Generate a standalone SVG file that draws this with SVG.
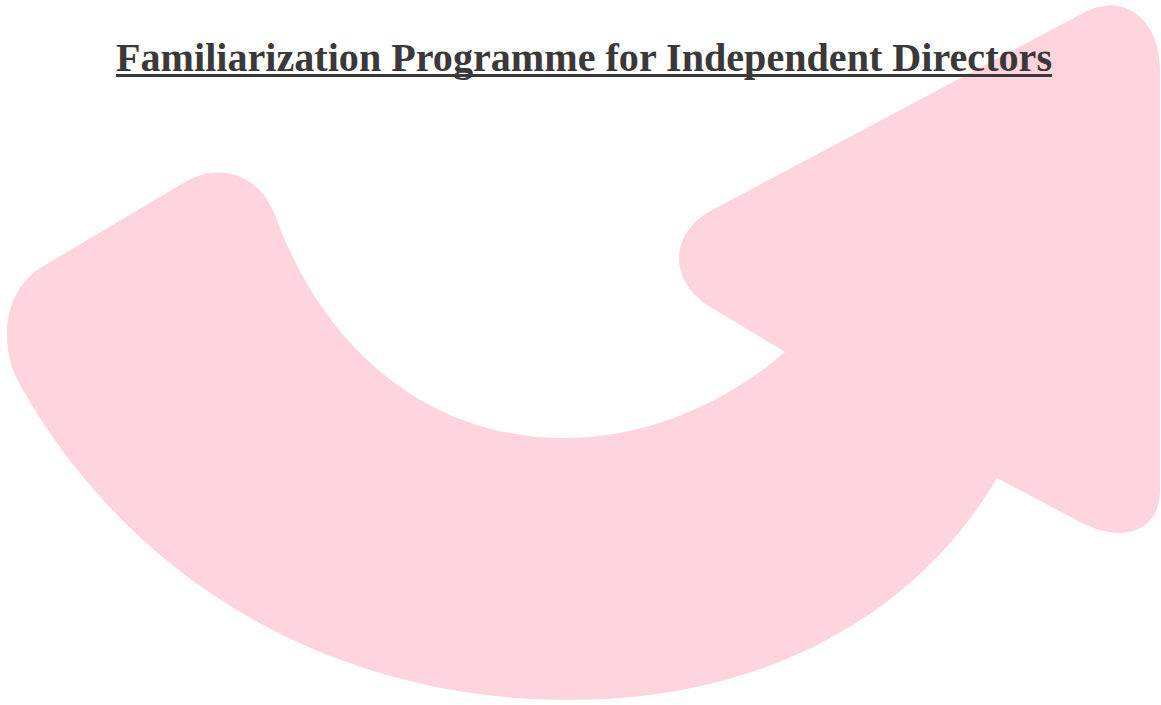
<svg xmlns="http://www.w3.org/2000/svg" width="1161" height="705" viewBox="0 0 1161 705">
<style>
.arrow{fill:#fed4de;}
.title{font-family:"Liberation Serif","DejaVu Serif",serif;font-weight:bold;font-size:40px;fill:#3a3838;}
</style>
<rect width="1161" height="705" fill="#ffffff"/>
<g id="arrow">
<path class="arrow" d="M 40 268 L 185 182 C 218 163, 258 172, 275 215 C 320 340, 420 438, 565 438 C 650 438, 730 400, 785 352 L 712 308 C 668 282, 668 234, 712 210 L 1085 12 C 1125 -8, 1160 20, 1160 70 L 1160 490 C 1160 530, 1125 545, 1080 522 L 997 478 C 920 610, 770 700, 570 700 C 330 700, 130 580, 20 385 C 0 350, 0 295, 40 268 Z"/>
</g>
<g id="title">
<text class="title" x="116" y="71" textLength="936" lengthAdjust="spacingAndGlyphs">Familiarization Programme for Independent Directors</text>
<rect x="116" y="74" width="936" height="3" fill="#3a3838"/>
</g>
</svg>
